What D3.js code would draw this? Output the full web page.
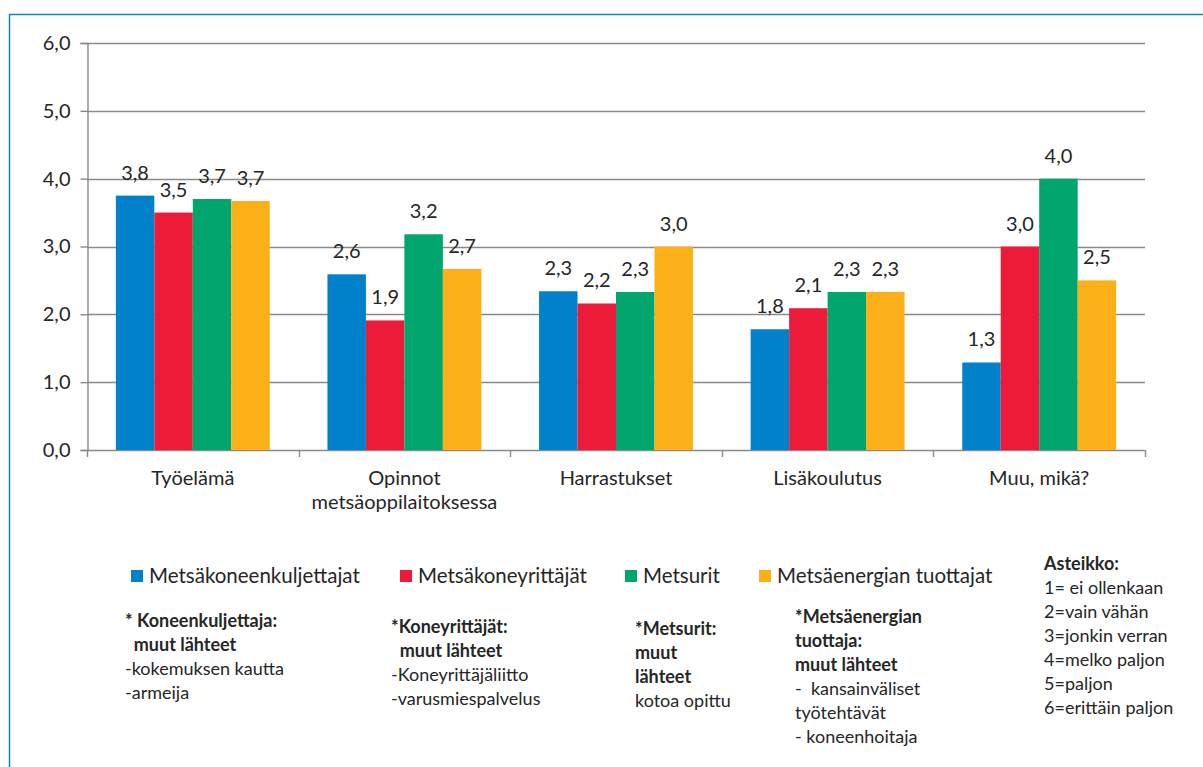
<!DOCTYPE html>
<html>
<head>
<meta charset="utf-8">
<script src="https://cdn.jsdelivr.net/npm/d3@7"></script>
<style>
  html, body { margin: 0; padding: 0; background: #fff; }
  svg { display: block; font-family: Lato, "Open Sans", sans-serif; }
</style>
</head>
<body>
<svg id="chart" width="1203" height="767"></svg>
<script>
const categories = [["Työelämä"], ["Opinnot", "metsäoppilaitoksessa"], ["Harrastukset"], ["Lisäkoulutus"], ["Muu, mikä?"]];
const seriesNames = ["Metsäkoneenkuljettajat", "Metsäkoneyrittäjät", "Metsurit", "Metsäenergian tuottajat"];
const seriesColors = ["#0081C9", "#ED1B3A", "#00A66E", "#FBAF18"];
const koneenkuljettajat = [3.75, 2.59, 2.34, 1.78, 1.29];
const koneyrittajat = [3.50, 1.91, 2.16, 2.09, 3.00];
const metsurit = [3.70, 3.18, 2.33, 2.33, 4.00];
const energia = [3.67, 2.67, 3.00, 2.33, 2.50];
const yTicks = [0, 1, 2, 3, 4, 5, 6];
const notes = [
  [["* Koneenkuljettaja:", true], ["  muut lähteet", true], ["-kokemuksen kautta", false], ["-armeija", false]],
  [["*Koneyrittäjät:", true], ["  muut lähteet", true], ["-Koneyrittäjäliitto", false], ["-varusmiespalvelus", false]],
  [["*Metsurit:", true], ["muut", true], ["lähteet", true], ["kotoa opittu", false]],
  [["*Metsäenergian", true], ["tuottaja:", true], ["muut lähteet", true], ["-  kansainväliset", false], ["työtehtävät", false], ["- koneenhoitaja", false]]
];
const scaleTitle = "Asteikko:";
const scaleLines = ["1= ei ollenkaan", "2=vain vähän", "3=jonkin verran", "4=melko paljon", "5=paljon", "6=erittäin paljon"];

const values = [koneenkuljettajat, koneyrittajat, metsurit, energia];
const fmt = v => d3.format(".1f")(v).replace(".", ",");
const textColor = "#262626";
const chartFont = "20px";

const svg = d3.select("#chart");

// outer border
svg.append("rect").attr("x", 9.5).attr("y", 14.5).attr("width", 1220).attr("height", 800)
  .attr("fill", "none").attr("stroke", "#0A84C6").attr("stroke-width", 1.5);

const m = {left: 87, right: 1145, top: 43, bottom: 450};
const x0 = d3.scaleBand().domain(d3.range(categories.length)).range([m.left, m.right]).padding(0);
const x1 = d3.scaleBand().domain(d3.range(seriesNames.length)).range([0, x0.bandwidth()]).paddingInner(0).paddingOuter(0.75);
const y = d3.scaleLinear().domain([0, 6]).range([m.bottom, m.top]);

// gridlines
svg.append("g").selectAll("line").data(yTicks).join("line")
  .attr("x1", m.left).attr("x2", m.right)
  .attr("y1", d => Math.round(y(d)) + 0.5).attr("y2", d => Math.round(y(d)) + 0.5)
  .attr("stroke", "#8a8a8a").attr("stroke-width", 1.4);

// y axis
const yAxis = svg.append("g").attr("transform", `translate(${m.left + 0.5},0)`)
  .call(d3.axisLeft(y).tickValues(yTicks).tickFormat(fmt).tickSize(7).tickPadding(10));
yAxis.select(".domain").attr("stroke", "#8a8a8a").attr("stroke-width", 1.4);
yAxis.selectAll(".tick line").attr("stroke", "#8a8a8a").attr("stroke-width", 1.4);
yAxis.selectAll(".tick text").attr("fill", textColor).style("font-size", chartFont).style("font-family", "Lato");

// x-axis ticks at category boundaries
const bounds = d3.range(categories.length + 1).map(i => m.left + i * x0.step());
svg.append("g").selectAll("line").data(bounds).join("line")
  .attr("x1", d => Math.round(d) + 0.5).attr("x2", d => Math.round(d) + 0.5)
  .attr("y1", m.bottom).attr("y2", m.bottom + 7)
  .attr("stroke", "#8a8a8a").attr("stroke-width", 1.4);

// bars
const groups = svg.append("g").selectAll("g").data(categories).join("g")
  .attr("transform", (d, i) => `translate(${x0(i)},0)`);
groups.each(function(c, ci) {
  const g = d3.select(this);
  values.forEach((arr, si) => {
    const v = arr[ci];
    g.append("rect").attr("x", x1(si)).attr("width", x1.bandwidth())
      .attr("y", y(v)).attr("height", y(0) - y(v)).attr("fill", seriesColors[si]);
    g.append("text").attr("x", x1(si) + x1.bandwidth() / 2).attr("y", y(v) - 16)
      .attr("text-anchor", "middle").attr("fill", textColor)
      .style("font-size", chartFont).text(fmt(v));
  });
});

// category labels
categories.forEach((lines, i) => {
  lines.forEach((t, li) => {
    svg.append("text").attr("x", x0(i) + x0.bandwidth() / 2).attr("y", 478 + li * 24)
      .attr("dy", "0.35em").attr("text-anchor", "middle").attr("fill", textColor)
      .style("font-size", chartFont).text(t);
  });
});

// legend
const legendX = [131, 400, 625, 759];
seriesNames.forEach((n, i) => {
  svg.append("rect").attr("x", legendX[i]).attr("y", 570).attr("width", 12).attr("height", 12).attr("fill", seriesColors[i]);
  svg.append("text").attr("x", legendX[i] + 18).attr("y", 576).attr("dy", "0.35em")
    .attr("fill", textColor).style("font-size", "20.5px").text(n);
});

// footnotes
const noteX = [125, 391, 635, 795];
const noteY = [621, 627, 629, 617];
notes.forEach((block, bi) => {
  block.forEach(([t, bold], li) => {
    svg.append("text").attr("x", noteX[bi]).attr("y", noteY[bi] + li * 24).attr("dy", "0.35em")
      .attr("fill", textColor).style("font-size", "18px").style("font-weight", bold ? "700" : "400")
      .style("white-space", "pre").attr("xml:space", "preserve").text(t);
  });
});

// scale description
svg.append("text").attr("x", 1044).attr("y", 564).attr("dy", "0.35em").attr("fill", textColor)
  .style("font-size", "18px").style("font-weight", "700").text(scaleTitle);
scaleLines.forEach((t, i) => {
  svg.append("text").attr("x", 1044).attr("y", 588 + i * 24).attr("dy", "0.35em").attr("fill", textColor)
    .style("font-size", "18px").text(t);
});
</script>
</body>
</html>
